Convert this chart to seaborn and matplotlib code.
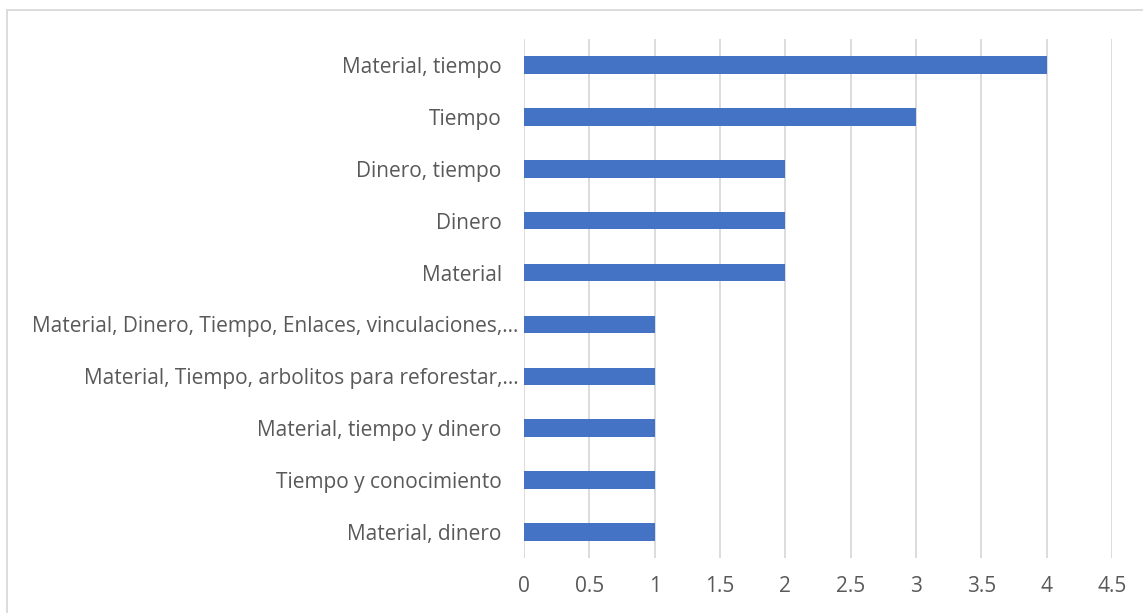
import matplotlib
matplotlib.use("Agg")
import matplotlib.pyplot as plt
from matplotlib.patches import Rectangle
import seaborn as sns
import pandas as pd

categories = [
    "Material, tiempo",
    "Tiempo",
    "Dinero, tiempo",
    "Dinero",
    "Material",
    "Material, Dinero, Tiempo, Enlaces, vinculaciones,…",
    "Material, Tiempo, arbolitos para reforestar,…",
    "Material, tiempo y dinero",
    "Tiempo y conocimiento",
    "Material, dinero",
]
values = [4, 3, 2, 2, 2, 1, 1, 1, 1, 1]
x_ticks = [0, 0.5, 1, 1.5, 2, 2.5, 3, 3.5, 4, 4.5]
x_tick_labels = ["0", "0.5", "1", "1.5", "2", "2.5", "3", "3.5", "4", "4.5"]

df = pd.DataFrame({"Recurso": categories, "Cantidad": values})

sns.set_theme(style="white")
plt.rcParams["font.family"] = ["Open Sans", "DejaVu Sans"]

text_color = "#595959"
bar_color = "#4472C4"
grid_color = "#D9D9D9"

fig = plt.figure(figsize=(11.43, 6.13), dpi=100)
fig.patch.set_facecolor("white")
ax = fig.add_axes([0.4584, 0.0897, 0.5145, 0.8467])

sns.barplot(data=df, x="Cantidad", y="Recurso", orient="h", color=bar_color,
            width=0.34, saturation=1, linewidth=0, ax=ax, zorder=3)

ax.set_xlim(0, 4.5)
ax.set_ylim(len(categories) - 0.5, -0.5)
ax.set_xticks(x_ticks)
ax.set_xticklabels(x_tick_labels)
ax.set_xlabel("")
ax.set_ylabel("")

ax.grid(axis="x", color=grid_color, linewidth=1.3, zorder=0)
ax.grid(axis="y", visible=False)
ax.set_axisbelow(True)
for s in ax.spines.values():
    s.set_visible(False)

ax.tick_params(axis="x", length=0, pad=13, labelsize=15, labelcolor=text_color)
ax.tick_params(axis="y", length=0, pad=16, labelsize=15, labelcolor=text_color)

# Truncated labels sit a little closer to the bars
for i, tick in enumerate(ax.yaxis.get_major_ticks()):
    if categories[i].endswith("…"):
        tick.set_pad(4)

# Outer chart frame
fig.patches.append(Rectangle((0.0057, -0.1), 1.2, 1.0845, transform=fig.transFigure,
                             fill=False, edgecolor=grid_color, linewidth=1.3))

fig.savefig("out.png", dpi=100)
